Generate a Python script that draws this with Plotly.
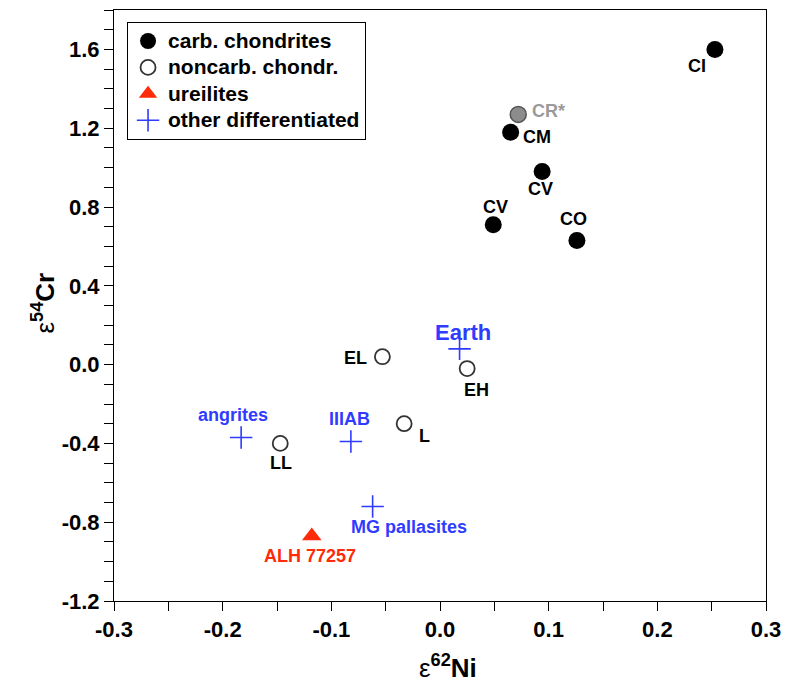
import plotly.graph_objects as go

# Carbonaceous chondrites
carb_names = ["CI", "CM", "CV", "CV", "CO"]
carb_x = [0.253, 0.065, 0.094, 0.049, 0.126]
carb_y = [1.60, 1.18, 0.98, 0.71, 0.63]

# CR chondrites (shown in grey)
cr_names = ["CR*"]
cr_x = [0.072]
cr_y = [1.27]

# Non-carbonaceous chondrites
noncarb_names = ["EL", "EH", "L", "LL"]
noncarb_x = [-0.053, 0.025, -0.033, -0.147]
noncarb_y = [0.04, -0.02, -0.30, -0.40]

# Ureilites
ureil_names = ["ALH 77257"]
ureil_x = [-0.118]
ureil_y = [-0.87]

# Other differentiated bodies
diff_names = ["Earth", "angrites", "IIIAB", "MG pallasites"]
diff_x = [0.018, -0.183, -0.082, -0.062]
diff_y = [0.08, -0.37, -0.39, -0.72]

x_ticks = [-0.3, -0.2, -0.1, 0.0, 0.1, 0.2, 0.3]
y_ticks = [-1.2, -0.8, -0.4, 0.0, 0.4, 0.8, 1.2, 1.6]

FONT = "Liberation Sans, Arial, Helvetica, sans-serif"
BLUE = "#2f3cff"
RED = "#ff2a0a"
GREY = "#9a9a9a"


def legend_name(s):
    # larger glyphs while keeping the compact legend row height
    return f"<span style='font-size:21px'>{s}</span>"


fig = go.Figure()

fig.add_trace(go.Scatter(
    x=carb_x, y=carb_y, mode="markers", name=legend_name("carb. chondrites"),
    marker=dict(symbol="circle", size=17, color="black",
                line=dict(color="black", width=0)),
))
fig.add_trace(go.Scatter(
    x=noncarb_x, y=noncarb_y, mode="markers",
    name=legend_name("noncarb. chondr."),
    marker=dict(symbol="circle", size=15, color="white",
                line=dict(color="#333333", width=1.8)),
))
fig.add_trace(go.Scatter(
    x=ureil_x, y=ureil_y, mode="markers", name=legend_name("ureilites"),
    marker=dict(symbol="triangle-up", size=17, color=RED,
                line=dict(color=RED, width=0)),
))
fig.add_trace(go.Scatter(
    x=diff_x, y=diff_y, mode="markers",
    name=legend_name("other differentiated"),
    marker=dict(symbol="cross-thin", size=16, color=BLUE,
                line=dict(color=BLUE, width=1.6)),
))
fig.add_trace(go.Scatter(
    x=cr_x, y=cr_y, mode="markers", showlegend=False,
    marker=dict(symbol="circle", size=16, color="#8c8c8c",
                line=dict(color="#555555", width=1.5)),
))

# label placement: (xanchor, xshift, yshift) in pixels relative to each point
carb_lab = [("center", -18, -17), ("left", 10, -5), ("center", -2, -17),
            ("center", 2, 18), ("center", -3, 21)]
cr_lab = [("left", 12, 3)]
noncarb_lab = [("right", -13, -1), ("center", 9, -21), ("left", 13, -12),
               ("center", 1, -20)]
ureil_lab = [("center", -2, -20)]
diff_lab = [("center", 3, 16), ("center", -8, 22), ("center", -1, 22),
            ("center", 36, -21)]


def add_labels(names, xs, ys, placement, color, size=18):
    for n, x, y, (xa, dx, dy) in zip(names, xs, ys, placement):
        fig.add_annotation(
            x=x, y=y, xref="x", yref="y", text=n, showarrow=False,
            xanchor=xa, yanchor="middle", xshift=dx, yshift=dy,
            font=dict(family=FONT, size=size, color=color, weight="bold"),
        )


add_labels(carb_names, carb_x, carb_y, carb_lab, "black")
add_labels(cr_names, cr_x, cr_y, cr_lab, GREY)
add_labels(noncarb_names, noncarb_x, noncarb_y, noncarb_lab, "black")
add_labels(ureil_names, ureil_x, ureil_y, ureil_lab, RED)
add_labels(diff_names[:1], diff_x[:1], diff_y[:1], diff_lab[:1], BLUE, size=22)
add_labels(diff_names[1:], diff_x[1:], diff_y[1:], diff_lab[1:], BLUE)

axis_common = dict(
    showline=True, mirror=True, linecolor="black", linewidth=1,
    ticks="outside", ticklen=9, tickwidth=1, tickcolor="black",
    showgrid=False, zeroline=False, automargin=False,
    tickfont=dict(family=FONT, size=22, color="black", weight="bold"),
)

fig.update_xaxes(
    range=[-0.3, 0.3], tickvals=x_ticks,
    ticktext=[f"{v:.1f}" for v in x_ticks],
    minor=dict(dtick=0.05, ticks="outside", ticklen=9, tickcolor="black"),
    **axis_common,
)
fig.update_yaxes(
    range=[-1.2, 1.8], tickvals=y_ticks,
    ticktext=[f"{v:.1f}" for v in y_ticks],
    minor=dict(dtick=0.1, ticks="outside", ticklen=9, tickcolor="black"),
    **axis_common,
)

# axis titles
fig.add_annotation(
    xref="paper", yref="paper", x=0.5, y=0, xshift=8, yshift=-65,
    xanchor="center", yanchor="middle", showarrow=False,
    text="ε<sup><b>62</b></sup><b>Ni</b>",
    font=dict(family=FONT, size=26, color="black"),
)
fig.add_annotation(
    xref="paper", yref="paper", x=0, y=0.5, xshift=-70, yshift=2,
    xanchor="center", yanchor="middle", showarrow=False, textangle=-90,
    text="ε<sup><b>54</b></sup><b>Cr</b>",
    font=dict(family=FONT, size=26, color="black"),
)

fig.update_layout(
    width=800, height=690,
    margin=dict(l=114, r=34, t=10, b=89),
    paper_bgcolor="white", plot_bgcolor="white",
    showlegend=True,
    legend=dict(
        x=0.02, y=0.98, xanchor="left", yanchor="top",
        bgcolor="white", bordercolor="black", borderwidth=1,
        font=dict(family=FONT, size=18, color="black", weight="bold"),
        tracegroupgap=0,
    ),
)

fig.write_html("out.html")
